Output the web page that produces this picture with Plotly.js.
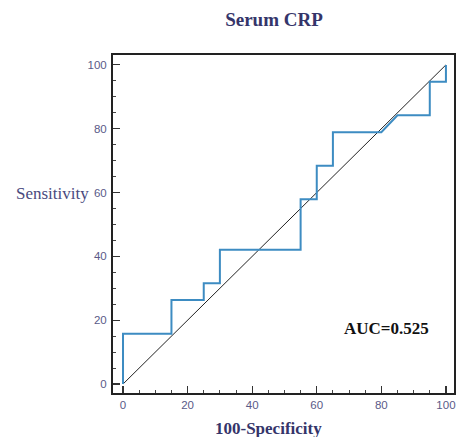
<!DOCTYPE html>
<html>
<head>
<meta charset="utf-8">
<script src="https://cdn.plot.ly/plotly-3.0.1.min.js"></script>
<style>html,body{margin:0;padding:0;background:#fff;}#chart{width:456px;height:437px;}</style>
</head>
<body>
<div id="chart"></div>
<script>
// 100-Specificity (%) and Sensitivity (%) of the ROC curve
var specComplement = [0, 0, 15, 15, 25, 25, 30, 30, 55, 55, 60, 60, 65, 65, 80, 85, 95, 95, 100, 100];
var sensitivity = [0, 15.8, 15.8, 26.3, 26.3, 31.6, 31.6, 42.1, 42.1, 57.9, 57.9, 68.4, 68.4, 78.9, 78.9, 84.2, 84.2, 94.7, 94.7, 100];
var refLineX = [0, 100];
var refLineY = [0, 100];
var tickVals = [0, 20, 40, 60, 80, 100];
var tickText = ['0', '20', '40', '60', '80', '100'];
var aucText = 'AUC=0.525';

var navy = '#35356a';
var serif = 'Liberation Serif, Times New Roman, serif';
var tickFont = {family: 'Liberation Sans, Arial, sans-serif', size: 11.5, color: '#5a5a88'};

var traces = [
  {x: refLineX, y: refLineY, mode: 'lines', line: {color: '#222', width: 1}, hoverinfo: 'skip', showlegend: false},
  {x: specComplement, y: sensitivity, mode: 'lines', line: {color: '#3d8cc2', width: 2}, showlegend: false}
];

var axisCommon = {
  showgrid: false, zeroline: false,
  showline: true, mirror: true, linecolor: '#222', linewidth: 2,
  ticks: 'inside', ticklen: 7, tickwidth: 1.2, tickcolor: '#333',
  tickvals: tickVals, ticktext: tickText, tickfont: tickFont,
  minor: {dtick: 5, ticks: 'inside', ticklen: 3, tickcolor: '#444', tickwidth: 1},
  fixedrange: true
};

var layout = {
  width: 456, height: 437,
  margin: {l: 113, r: 2, t: 55, b: 44},
  paper_bgcolor: '#fff', plot_bgcolor: '#fff',
  title: {text: 'Serum CRP', x: 274/456, xref: 'container', xanchor: 'center', y: 1 - 19/437, yref: 'container', yanchor: 'middle',
    font: {family: serif, size: 19, color: navy, weight: 'bold'}},
  xaxis: Object.assign({}, axisCommon, {range: [-3.1, 102.5]}),
  yaxis: Object.assign({}, axisCommon, {range: [-2.8, 103.1], ticklabelstandoff: 2}),
  annotations: [
    {text: 'Sensitivity', xref: 'paper', yref: 'paper', x: (52 - 113) / 341, y: (392 - 193) / 337, xanchor: 'center', yanchor: 'middle', showarrow: false,
      font: {family: serif, size: 17, color: '#4a4a7e'}},
    {text: '<b>100-Specificity</b>', xref: 'paper', yref: 'paper', x: (268 - 113) / 341, y: (392 - 427) / 337, xanchor: 'center', yanchor: 'middle', showarrow: false,
      font: {family: serif, size: 17, color: navy}},
    {text: '<b>' + aucText + '</b>', xref: 'paper', yref: 'paper', x: (386 - 113) / 341, y: (392 - 328) / 337, xanchor: 'center', yanchor: 'middle', showarrow: false,
      font: {family: serif, size: 17, color: '#111'}}
  ]
};

Plotly.newPlot('chart', traces, layout, {displayModeBar: false, staticPlot: true});
</script>
</body>
</html>
